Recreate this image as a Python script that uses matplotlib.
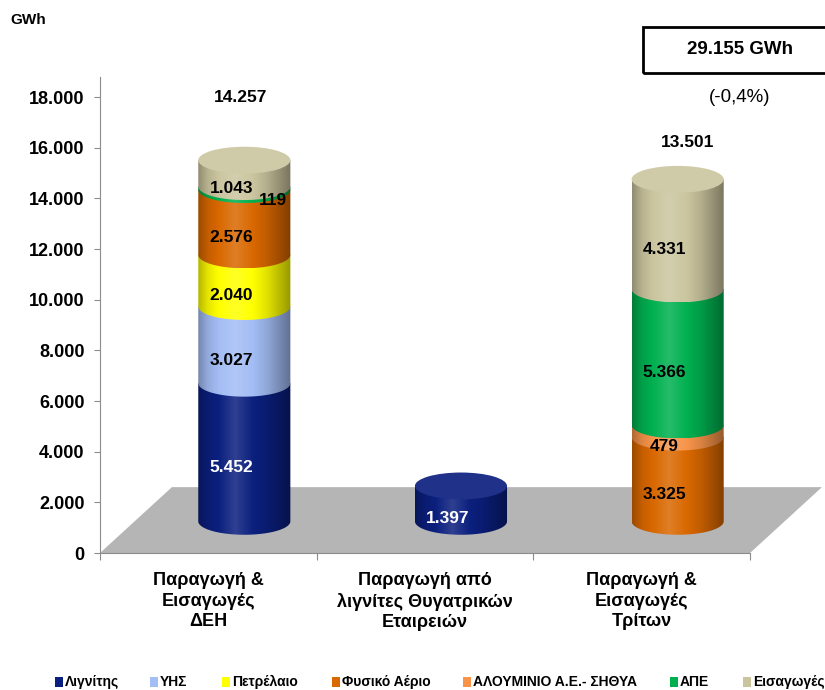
import numpy as np
import matplotlib.pyplot as plt
from matplotlib.patches import Polygon, Ellipse, Rectangle
from matplotlib.colors import to_rgb
from matplotlib import font_manager

names = {f.name for f in font_manager.fontManager.ttflist}
narrow = 'Liberation Sans Narrow' if 'Liberation Sans Narrow' in names else 'Liberation Sans'
plt.rcParams['font.family'] = ['Liberation Sans', 'DejaVu Sans']

categories = ['Παραγωγή &\nΕισαγωγές\nΔΕΗ',
              'Παραγωγή από\nλιγνίτες Θυγατρικών\nΕταιρειών',
              'Παραγωγή &\nΕισαγωγές\nΤρίτων']
sources = ['Λιγνίτης', 'ΥΗΣ', 'Πετρέλαιο', 'Φυσικό Αέριο',
           'ΑΛΟΥΜΙΝΙΟ Α.Ε.- ΣΗΘΥΑ', 'ΑΠΕ', 'Εισαγωγές']
colors = ['#0b1f7e', '#a3bdf5', '#ffff00', '#d96800', '#f7944a', '#00b050', '#cbc59f']
text_colors = ['white', 'black', 'black', 'black', 'black', 'black', 'black']

lignite = [5452, 1397, 0]
hydro = [3027, 0, 0]
oil = [2040, 0, 0]
gas = [2576, 0, 3325]
aluminium = [0, 0, 479]
renewables = [119, 0, 5366]
imports = [1043, 0, 4331]
totals = [14257, 1397, 13501]
total_text = '29.155 GWh'
change_text = '(-0,4%)'

series = [lignite, hydro, oil, gas, aluminium, renewables, imports]


def fmt(v):
    return f'{v:,}'.replace(',', '.')


def shade(c, f):
    c = np.array(to_rgb(c))
    if f >= 1:
        return c + (1 - c) * (f - 1)
    return c * f


def gradient(c, n=64):
    u = np.linspace(0, 1, n)
    prof = np.interp(u, [0, 0.1, 0.4, 0.75, 1], [0.72, 0.9, 1.15, 0.88, 0.6])
    return np.array([[shade(c, p) for p in prof]])


fig = plt.figure(figsize=(8.25, 6.9), dpi=100)
ax = fig.add_axes([100 / 825, 137 / 690, 725 / 825, 476 / 690])
ax.set_xlim(-0.5, 2.846)
ax.set_ylim(0, 18790)

# floor
fdx, fdy = 0.332, 2600
ax.add_patch(Polygon([(-0.5, 0), (2.5, 0), (2.5 + fdx, fdy), (-0.5 + fdx, fdy)],
                     closed=True, facecolor='#b5b5b5', edgecolor='none', zorder=1))

w = 0.425
eh = 1060
bx, by = 0.166, 1250
t = np.linspace(np.pi, 2 * np.pi, 80)

for i in range(len(categories)):
    xc = i + bx
    y0 = by
    top_color = None
    for k, vals in enumerate(series):
        v = vals[i]
        if v == 0:
            continue
        y1 = y0 + v
        xs = xc + w / 2 * np.cos(t)
        ys = y0 + eh / 2 * np.sin(t)
        verts = list(zip(xs, ys)) + [(xc + w / 2, y1), (xc - w / 2, y1)]
        poly = Polygon(verts, closed=True, facecolor='none', edgecolor='none', zorder=3)
        ax.add_patch(poly)
        im = ax.imshow(gradient(colors[k]), extent=[xc - w / 2, xc + w / 2, y0 - eh / 2, y1],
                       aspect='auto', zorder=3, interpolation='bilinear')
        im.set_clip_path(poly)
        top_color = colors[k]
        y0 = y1
    # top ellipse
    ax.add_patch(Ellipse((xc, y0), w, eh, facecolor=shade(top_color, 1.08),
                         edgecolor='none', zorder=4))

    # segment labels
    y0 = by
    for k, vals in enumerate(series):
        v = vals[i]
        if v == 0:
            continue
        ym = y0 + v / 2 - 600
        xl = xc - 0.06
        if i == 0 and k == 5:
            xl, ym = xc + 0.13, y0 + v / 2 - 500
        ax.text(xl, ym, fmt(v), ha='center', va='center', fontsize=12.5,
                fontweight='bold', color=text_colors[k], family=narrow, zorder=5)
        y0 += v

# totals above cylinders
total_pos = [(0.15, 18000), (2.21, 16190)]
for (xt, yt), i in zip(total_pos, [0, 2]):
    ax.text(xt, yt, fmt(totals[i]), ha='center', va='center', fontsize=12.5,
            fontweight='bold', family=narrow)

# axes styling
for s in ['top', 'right']:
    ax.spines[s].set_visible(False)
ax.spines['left'].set_color('#8c8c8c')
ax.spines['bottom'].set_color('#8c8c8c')
ax.spines['bottom'].set_bounds(-0.5, 2.5)
yt = np.arange(0, 18001, 2000)
ax.set_yticks(yt)
ax.set_yticklabels([fmt(v) for v in yt], fontsize=13, fontweight='bold')
ax.tick_params(axis='y', color='#8c8c8c', length=4, pad=7)
ax.set_xticks([-0.5, 0.5, 1.5, 2.5])
ax.set_xticklabels([])
ax.tick_params(axis='x', which='major', color='#8c8c8c', length=5)
ax.set_xticks([0, 1, 2], minor=True)
ax.set_xticklabels(categories, minor=True, fontsize=13, fontweight='bold', linespacing=1.25)
ax.tick_params(axis='x', which='minor', length=0, pad=14)

fig.text(28 / 825, 1 - 20 / 690, 'GWh', fontsize=11, fontweight='bold', ha='center', va='center')

fig.patches.append(Rectangle((643 / 825, 1 - 73 / 690), 190 / 825, 46 / 690, transform=fig.transFigure,
                             fill=False, edgecolor='black', lw=2))
fig.text(740 / 825, 1 - 50 / 690, total_text, fontsize=13.5, fontweight='bold', ha='center', va='center',
         family=narrow)
fig.text(740 / 825, 1 - 97 / 690, change_text, fontsize=13.5, ha='center', va='center', family=narrow)

# legend
leg_x = [55, 150, 222, 332, 463, 670, 743]
for k, name in enumerate(sources):
    fig.patches.append(Rectangle((leg_x[k] / 825, 1 - 687 / 690), 8 / 825, 10 / 690,
                                 transform=fig.transFigure, facecolor=colors[k], edgecolor='none'))
    fig.text((leg_x[k] + 10) / 825, 1 - 686 / 690, name, fontsize=10, fontweight='bold',
             ha='left', va='baseline', family=narrow)

fig.savefig('out.png', dpi=100)
